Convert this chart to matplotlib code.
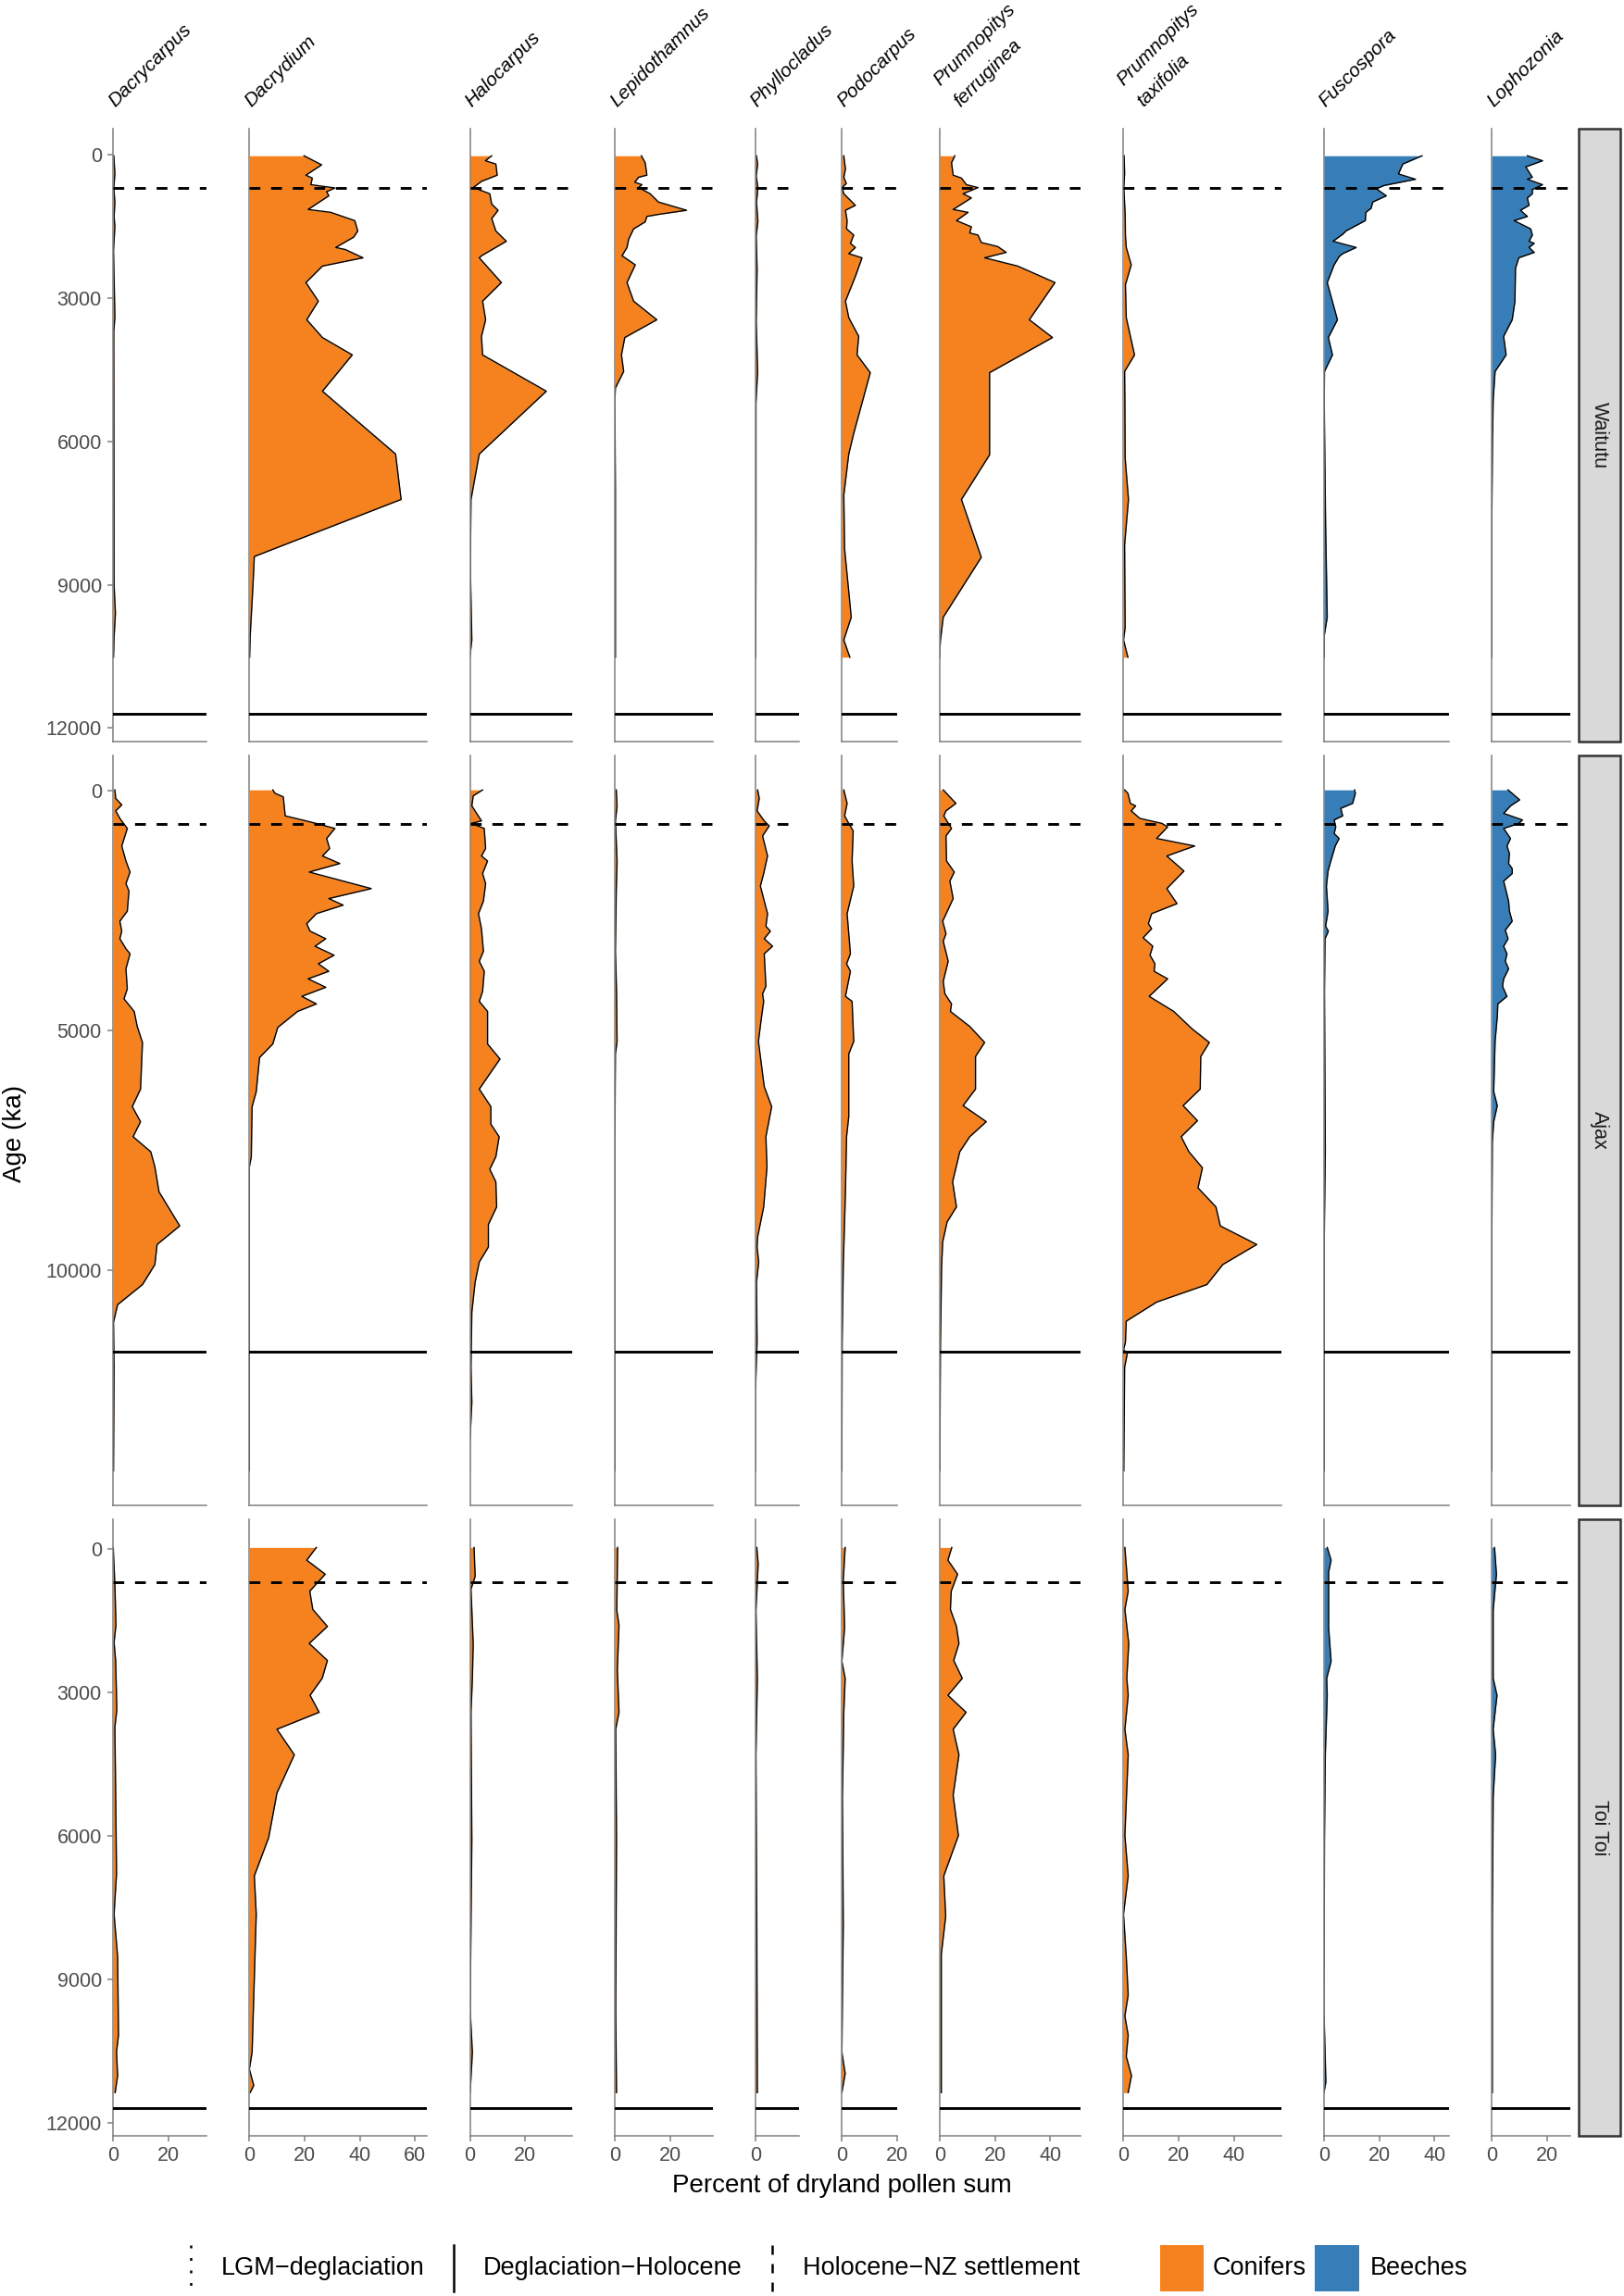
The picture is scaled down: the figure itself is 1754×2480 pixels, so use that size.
import numpy as np
import matplotlib
matplotlib.use("Agg")
import matplotlib.pyplot as plt
from matplotlib.patches import Rectangle

plt.rcParams['font.family'] = ['Liberation Sans', 'DejaVu Sans']

# ---- data: (age in years BP, percent of dryland pollen sum) ----
sites = ["Waitutu", "Ajax", "Toi Toi"]
taxa = ["Dacrycarpus", "Dacrydium", "Halocarpus", "Lepidothamnus", "Phyllocladus",
        "Podocarpus", "Prumnopitys ferruginea", "Prumnopitys taxifolia",
        "Fuscospora", "Lophozonia"]
taxon_labels = ["Dacrycarpus", "Dacrydium", "Halocarpus", "Lepidothamnus", "Phyllocladus",
                "Podocarpus", "Prumnopitys\nferruginea", "Prumnopitys\ntaxifolia",
                "Fuscospora", "Lophozonia"]
taxon_group = ["Conifers"] * 8 + ["Beeches"] * 2
x_max = [33.8, 64.4, 37, 35.4, 15.8, 20, 51, 57.1, 45.3, 28.4]
x_ticks = [[0, 20], [0, 20, 40, 60], [0, 20], [0, 20], [0], [0, 20],
           [0, 20, 40], [0, 20, 40], [0, 20, 40], [0, 20]]
y_ticks = [[0, 3000, 6000, 9000, 12000], [0, 5000, 10000], [0, 3000, 6000, 9000, 12000]]
settlement_age = 700
holocene_age = 11700

wai_dacrycarpus = [(26, 0.2), (400, 0.6), (700, 0.2), (1000, 0.6), (1300, 0.3), (1500, 0.6), (2000, 0.1),
                   (3400, 0.6), (3700, 0.2), (9000, 0.3), (9600, 0.8), (10100, 0.3), (10518, 0.1)]
wai_dacrydium = [(26, 19.8), (216, 26.2), (432, 20.5), (493, 22.8), (631, 22.3), (700, 31.0), (778, 28.0),
                 (864, 28.8), (1150, 21.3), (1210, 29.5), (1383, 38.2), (1599, 39.3), (1729, 37.8),
                 (1945, 31.3), (1988, 34.8), (2161, 41.2), (2334, 26.5), (2679, 20.5), (3068, 25.0),
                 (3457, 20.8), (3829, 26.5), (4192, 37.3), (4952, 26.5), (6266, 53.0), (7217, 55.0),
                 (8410, 1.8), (9032, 1.3), (10069, 0.3), (10518, 0.1)]
wai_halocarpus = [(26, 7.9), (130, 5.6), (199, 9.4), (432, 9.9), (562, 4.2), (691, 1.2), (821, 7.2),
                  (1037, 7.9), (1167, 10.2), (1340, 7.9), (1599, 9.4), (1815, 13.2), (2118, 4.2),
                  (2161, 3.4), (2679, 11.4), (3068, 4.6), (3457, 5.7), (3803, 4.2), (4192, 4.6),
                  (4952, 27.7), (6266, 3.4), (7217, 0.4), (8600, 0.15), (10156, 0.7), (10518, 0.0)]
wai_lepidothamnus = [(26, 9.6), (173, 11.0), (432, 11.6), (476, 8.6), (579, 7.2), (631, 9.8), (691, 8.6),
                     (821, 12.8), (994, 15.8), (1167, 26.0), (1253, 15.8), (1296, 11.6), (1409, 11.0),
                     (1556, 6.8), (1772, 5.0), (1945, 4.4), (2118, 2.6), (2308, 7.4), (2679, 4.4),
                     (3068, 6.8), (3457, 15.2), (3829, 3.6), (4192, 2.4), (4538, 3.2), (4883, 0.2),
                     (5143, 0.0), (7000, 0.2), (10518, 0.2)]
wai_phyllocladus = [(26, 0.4), (200, 0.8), (450, 0.3), (700, 0.9), (1000, 0.4), (1400, 0.9), (1700, 0.3),
                    (2400, 0.6), (3500, 0.3), (4550, 0.8), (5200, 0.2), (8000, 0.2), (10518, 0.1)]
wai_podocarpus = [(26, 0.7), (302, 1.3), (475, 0.7), (605, 1.6), (692, 0.1), (821, 0.7), (1063, 4.9),
                  (1167, 1.3), (1383, 1.9), (1556, 1.7), (1685, 4.3), (1858, 3.1), (1945, 4.9),
                  (2074, 2.5), (2161, 7.3), (2550, 4.9), (3068, 1.3), (3414, 2.5), (3803, 6.1),
                  (4192, 5.5), (4564, 10.3), (5834, 4.3), (6266, 2.5), (7130, 0.7), (8254, 1.0),
                  (9680, 3.4), (10156, 0.7), (10518, 2.9)]
wai_pferruginea = [(26, 5.4), (173, 4.2), (432, 4.8), (493, 7.8), (631, 9.6), (692, 13.8), (821, 8.4),
                   (908, 11.4), (1150, 4.8), (1210, 10.2), (1383, 6.0), (1513, 11.4), (1642, 10.8),
                   (1685, 13.8), (1841, 15.0), (1927, 21.0), (2048, 24.0), (2161, 16.2), (2334, 28.2),
                   (2679, 41.7), (3457, 32.4), (3829, 40.8), (4564, 18.0), (6283, 18.0), (7217, 7.8),
                   (8427, 15.0), (9680, 1.2), (10156, 0.2), (10330, 0.0), (10518, 0.0)]
wai_ptaxifolia = [(26, 0.2), (400, 0.4), (691, 0.1), (1253, 0.6), (1685, 0.7), (1945, 1.0), (2308, 2.8),
                  (2723, 0.7), (3414, 1.0), (4192, 4.0), (4538, 0.4), (5143, 0.5), (6353, 0.6),
                  (7217, 1.8), (8168, 0.4), (9896, 0.6), (10156, 0.0), (10518, 1.6)]
wai_fuscospora = [(26, 35.6), (199, 28.6), (406, 27.0), (518, 33.2), (648, 21.8), (717, 19.0), (864, 22.6),
                  (994, 17.7), (1124, 17.1), (1210, 15.2), (1383, 15.0), (1599, 8.0), (1668, 6.8),
                  (1815, 3.3), (1945, 11.7), (2074, 6.8), (2135, 5.5), (2308, 3.7), (2679, 1.2),
                  (3457, 4.9), (3829, 1.6), (4192, 3.1), (4538, 0.2), (5143, 0.1), (7735, 0.6),
                  (9680, 1.2), (10069, 0.1), (10518, 0.1)]
wai_lophozonia = [(26, 12.9), (130, 18.4), (259, 12.3), (475, 14.7), (518, 12.9), (631, 18.4), (734, 14.7),
                  (821, 14.7), (908, 12.9), (1063, 13.5), (1167, 10.4), (1296, 12.9), (1383, 8.1),
                  (1556, 14.1), (1685, 14.7), (1815, 13.5), (1858, 15.4), (1945, 13.5), (2048, 15.4),
                  (2161, 9.8), (2377, 8.6), (3068, 8.4), (3457, 7.4), (3803, 4.3), (4192, 5.2),
                  (4538, 1.2), (5143, 0.5), (6007, 0.25), (7735, 0.0), (10518, 0.0)]

aja_dacrycarpus = [(-20, 0.6), (157, 0.9), (293, 3.1), (418, 0.9), (575, 2.4), (785, 5.1), (1151, 3.1),
                   (1464, 4.6), (1695, 6.1), (1936, 4.6), (2092, 5.7), (2510, 5.1), (2720, 2.4),
                   (2929, 3.1), (3086, 2.4), (3295, 4.6), (3400, 6.1), (3713, 4.6), (4132, 5.1),
                   (4341, 3.9), (4603, 7.6), (4916, 8.7), (5251, 10.6), (6224, 9.9), (6590, 6.9),
                   (6904, 9.9), (7218, 7.2), (7531, 13.6), (7845, 15.1), (8368, 16.6), (9079, 24.1),
                   (9467, 15.9), (9885, 15.1), (10304, 10.6), (10722, 1.6), (11088, 0.1), (12029, 0.3),
                   (14190, 0.1)]
aja_dacrydium = [(-20, 8.5), (52, 9.3), (126, 12.3), (523, 13.0), (648, 22.0), (785, 31.0), (994, 28.0),
                 (1203, 29.1), (1360, 26.5), (1517, 32.8), (1695, 21.7), (2040, 44.2), (2249, 28.8),
                 (2385, 34.0), (2563, 24.3), (2772, 20.8), (2929, 22.0), (3086, 27.7), (3243, 23.8),
                 (3431, 30.7), (3609, 25.0), (3766, 28.8), (3923, 21.3), (4100, 27.7), (4289, 19.0),
                 (4446, 24.3), (4603, 17.5), (4937, 10.3), (5282, 8.5), (5565, 3.7), (6276, 2.5),
                 (6590, 1.0), (7636, 0.7), (7845, 0.0), (14190, 0.0)]
aja_halocarpus = [(-20, 4.6), (105, 1.2), (314, 0.7), (628, 4.2), (680, 0.4), (785, 5.2), (1203, 5.7),
                  (1360, 4.2), (1464, 6.4), (1726, 4.6), (1936, 5.7), (2301, 4.9), (2563, 3.1),
                  (2877, 4.2), (3347, 4.9), (3556, 3.4), (3766, 5.2), (4184, 4.6), (4393, 3.4),
                  (4603, 6.4), (5282, 6.4), (5596, 10.9), (6224, 3.4), (6590, 7.6), (6956, 7.6),
                  (7218, 10.6), (7636, 9.4), (7897, 7.2), (8159, 9.4), (8682, 9.7), (9048, 6.7),
                  (9519, 6.7), (9833, 3.4), (10251, 1.9), (10879, 0.7), (12029, 0.4), (12762, 0.7),
                  (13598, 0.0), (14190, 0.0)]
aja_lepidothamnus = [(-20, 0.5), (314, 0.8), (628, 0.2), (1464, 0.8), (2092, 0.5), (3347, 0.2),
                     (4184, 0.6), (5230, 0.8), (5491, 0.2), (7322, 0.0), (14190, 0.0)]
aja_phyllocladus = [(-20, 0.8), (157, 1.4), (418, 0.6), (628, 3.2), (732, 5.0), (941, 2.6), (1360, 4.4),
                    (1726, 3.0), (1987, 1.8), (2563, 4.4), (2824, 3.8), (2929, 5.4), (3086, 3.2),
                    (3243, 6.2), (3400, 3.2), (4079, 3.8), (4236, 2.6), (4393, 3.0), (4812, 2.0),
                    (5230, 1.1), (6172, 3.2), (6590, 5.9), (7218, 3.8), (7845, 4.2), (8682, 3.0),
                    (9310, 0.8), (9519, 0.6), (9833, 1.2), (10251, 0.4), (11506, 0.6), (12552, 0.0),
                    (14190, 0.0)]
aja_podocarpus = [(-20, 0.7), (262, 1.9), (523, 1.0), (680, 2.5), (837, 4.1), (1464, 3.7), (1987, 4.3),
                  (2563, 1.9), (3400, 3.1), (3609, 1.7), (3766, 3.1), (4289, 1.3), (4393, 3.7),
                  (5230, 4.3), (5491, 2.5), (6799, 2.5), (7218, 1.7), (8368, 1.3), (9937, 0.5),
                  (11506, 0.1), (13598, 0.0), (14190, 0.0)]
aja_pferruginea = [(-20, 1.2), (262, 5.8), (418, 2.2), (523, 1.4), (785, 4.2), (941, 2.2), (1464, 2.4),
                   (1695, 5.2), (1883, 3.6), (2249, 4.8), (2720, 1.0), (2981, 2.2), (3138, 1.2),
                   (3556, 3.0), (3975, 1.2), (4236, 1.8), (4446, 4.2), (4603, 3.8), (4916, 10.8),
                   (5251, 16.2), (5544, 12.9), (6224, 12.9), (6569, 8.4), (6904, 16.8), (7218, 10.8),
                   (7531, 7.2), (8159, 4.6), (8682, 6.0), (8996, 2.6), (9414, 1.0), (9937, 0.6),
                   (11506, 0.2), (13598, 0.0), (14190, 0.0)]
aja_ptaxifolia = [(-20, 0.4), (52, 1.6), (262, 2.5), (314, 4.4), (418, 2.8), (575, 5.9), (680, 13.9),
                  (753, 16.0), (994, 12.0), (1151, 25.8), (1360, 15.7), (1674, 21.9), (2040, 15.7),
                  (2354, 19.4), (2563, 10.2), (2772, 9.0), (2877, 10.2), (3065, 7.1), (3243, 10.6),
                  (3431, 9.6), (3609, 11.4), (3766, 11.1), (3923, 16.0), (4289, 9.3), (4603, 18.2),
                  (4969, 24.9), (5251, 31.1), (5544, 28.0), (6224, 27.8), (6569, 21.6), (6883, 26.8),
                  (7218, 20.9), (7531, 23.7), (7866, 28.6), (8285, 27.0), (8682, 33.5), (9079, 35.1),
                  (9467, 48.3), (9885, 36.0), (10304, 30.2), (10669, 12.0), (11067, 1.0), (11506, 0.7),
                  (11663, 0.0), (11736, 1.4), (12029, 0.4), (14190, 0.1)]
aja_fuscospora = [(-20, 11.1), (52, 11.4), (262, 10.4), (366, 6.1), (523, 6.8), (607, 3.7), (753, 4.3),
                  (889, 3.7), (994, 5.5), (1151, 4.1), (1464, 2.5), (1674, 1.5), (1987, 0.9),
                  (2510, 1.5), (2824, 0.6), (2929, 1.6), (3086, 0.4), (4184, 0.2), (7531, 0.5),
                  (9414, 0.1), (14190, 0.1)]
aja_lophozonia = [(-20, 5.9), (188, 10.1), (314, 6.8), (471, 4.3), (607, 11.1), (680, 9.8), (785, 4.3),
                  (994, 6.8), (1151, 5.5), (1308, 6.4), (1517, 6.1), (1622, 7.4), (1726, 7.4),
                  (1883, 4.3), (2092, 5.2), (2301, 6.1), (2510, 6.4), (2720, 7.4), (2908, 4.9),
                  (3086, 5.9), (3243, 4.3), (3400, 5.5), (3556, 4.9), (3713, 6.1), (3923, 4.3),
                  (4079, 3.9), (4289, 5.5), (4446, 2.2), (4707, 2.0), (5230, 1.2), (6276, 0.7),
                  (6569, 2.0), (6904, 0.7), (7322, 0.2), (9414, 0.0), (14190, 0.0)]

toi_dacrycarpus = [(-27, 0.0), (755, 0.6), (1599, 1.0), (1954, 0.3), (2353, 0.9), (3375, 1.3), (3730, 0.6),
                   (5195, 0.9), (6794, 1.2), (7638, 0.3), (8526, 1.6), (10169, 1.9), (10524, 1.2),
                   (11012, 1.6), (11368, 0.7)]
toi_dacrydium = [(-27, 24.3), (240, 20.8), (533, 27.5), (888, 21.9), (1270, 23.0), (1625, 28.3),
                 (1980, 21.7), (2336, 28.3), (2709, 26.4), (3064, 22.0), (3419, 25.3), (3774, 10.0),
                 (4307, 16.3), (5107, 10.0), (6039, 7.0), (6838, 1.8), (7638, 2.5), (10524, 1.0),
                 (10879, 0.0), (11217, 1.6), (11368, 0.3)]
toi_halocarpus = [(-27, 1.5), (577, 1.9), (844, 0.4), (1998, 1.2), (2709, 0.9), (3419, 0.4), (6083, 0.7),
                  (9636, 0.1), (10524, 0.9), (11368, 0.1)]
toi_lepidothamnus = [(-27, 1.0), (1288, 0.7), (1599, 1.5), (2531, 0.9), (3419, 1.5), (3774, 0.3),
                     (6083, 0.6), (9636, 0.3), (11368, 0.6)]
toi_phyllocladus = [(-27, 0.5), (311, 1.0), (1288, 0.2), (2709, 0.7), (4307, 0.2), (7860, 0.5), (11368, 0.7)]
toi_podocarpus = [(-27, 1.2), (666, 0.5), (1643, 1.0), (2353, 0.0), (2709, 1.2), (3419, 0.7), (5195, 0.2),
                  (7860, 0.5), (10524, 0.0), (10968, 1.2), (11368, 0.0)]
toi_pferruginea = [(-27, 4.3), (240, 2.9), (533, 6.4), (888, 4.1), (1270, 3.8), (1625, 6.0), (1980, 6.9),
                   (2336, 5.0), (2709, 8.1), (3064, 2.9), (3419, 9.5), (3774, 4.8), (4307, 6.9),
                   (5151, 4.8), (5995, 6.7), (6838, 1.4), (7682, 2.1), (8481, 0.5), (11368, 0.5)]
toi_ptaxifolia = [(-27, 0.5), (888, 1.7), (1270, 0.5), (1980, 1.9), (2709, 1.2), (3064, 1.7), (3774, 0.5),
                  (4307, 1.7), (5995, 0.5), (6838, 1.7), (7638, 0.0), (8526, 1.0), (9325, 1.7),
                  (9769, 0.5), (10169, 1.7), (10613, 1.0), (11012, 2.9), (11368, 1.7)]
toi_fuscospora = [(-27, 1.2), (240, 2.6), (488, 1.7), (1643, 1.7), (2353, 2.6), (2709, 1.0), (3064, 1.2),
                  (4307, 0.5), (6083, 0.2), (9636, 0.0), (11146, 0.7), (11368, 0.0)]
toi_lophozonia = [(-27, 1.0), (533, 1.7), (1288, 0.5), (2709, 0.5), (3064, 1.9), (3774, 0.5), (4307, 1.4),
                  (5195, 0.5), (7860, 0.2), (11368, 0.2)]

curves = {
    "Waitutu": [wai_dacrycarpus, wai_dacrydium, wai_halocarpus, wai_lepidothamnus, wai_phyllocladus,
                wai_podocarpus, wai_pferruginea, wai_ptaxifolia, wai_fuscospora, wai_lophozonia],
    "Ajax": [aja_dacrycarpus, aja_dacrydium, aja_halocarpus, aja_lepidothamnus, aja_phyllocladus,
             aja_podocarpus, aja_pferruginea, aja_ptaxifolia, aja_fuscospora, aja_lophozonia],
    "Toi Toi": [toi_dacrycarpus, toi_dacrydium, toi_halocarpus, toi_lepidothamnus, toi_phyllocladus,
                toi_podocarpus, toi_pferruginea, toi_ptaxifolia, toi_fuscospora, toi_lophozonia],
}

# ---- layout (pixels) ----
W, H = 1754, 2480
fill_col = {"Conifers": "#F5821F", "Beeches": "#377EB8"}
axis_grey = "#808080"
col_left0, px_per_pct, col_gap = 122.3, 2.98, 46.3
row_top = [138.75, 816.3, 1640.7]
row_bot = [800.8, 1625.5, 2307.3]
row_ylim = [(-545, 12278), (-732, 14901), (-621, 12277)]

col_left = []
x = col_left0
for xm in x_max:
    col_left.append(x)
    x += xm * px_per_pct + col_gap

fig = plt.figure(figsize=(W / 100, H / 100), dpi=100)
over = fig.add_axes([0, 0, 1, 1])
over.set_xlim(0, W)
over.set_ylim(H, 0)
over.axis("off")

for i, site in enumerate(sites):
    for j, taxon in enumerate(taxa):
        wpx = x_max[j] * px_per_pct
        ax = fig.add_axes([col_left[j] / W, 1 - row_bot[i] / H, wpx / W, (row_bot[i] - row_top[i]) / H])
        pts = np.array(curves[site][j], dtype=float)
        ax.fill_betweenx(pts[:, 0], 0, pts[:, 1], color=fill_col[taxon_group[j]], lw=0, zorder=1)
        ax.plot(pts[:, 1], pts[:, 0], color="black", lw=1.0, zorder=2)
        ax.axhline(settlement_age, color="black", lw=2.1, ls=(0, (4, 4)), zorder=3)
        ax.axhline(holocene_age, color="black", lw=2.1, zorder=3)
        ax.set_xlim(0, x_max[j])
        ax.set_ylim(row_ylim[i][1], row_ylim[i][0])
        for s in ["top", "right"]:
            ax.spines[s].set_visible(False)
        for s in ["left", "bottom"]:
            ax.spines[s].set_color(axis_grey)
            ax.spines[s].set_linewidth(1.1)
        ax.set_yticks(y_ticks[i])
        ax.set_xticks(x_ticks[j])
        ax.tick_params(axis="y", left=(j == 0), labelleft=(j == 0), length=4.5, width=1.1,
                       color=axis_grey, labelcolor="#4D4D4D", labelsize=15.5, pad=4.5)
        ax.tick_params(axis="x", bottom=(i == 2), labelbottom=(i == 2), length=4.5, width=1.1,
                       color=axis_grey, labelcolor="#4D4D4D", labelsize=15.5, pad=3)

    # right-hand strip for the site
    over.add_patch(Rectangle((1704.5, row_top[i]), 45, row_bot[i] - row_top[i],
                             facecolor="#D9D9D9", edgecolor="#333333", lw=1.8))
    over.text(1727, (row_top[i] + row_bot[i]) / 2, site, rotation=-90, ha="center", va="center",
              fontsize=15.5, color="#1A1A1A")

# taxon headers (each line placed on its own, rotated 45 degrees)
for j, lab in enumerate(taxon_labels):
    lines = lab.split("\n")
    if len(lines) == 1:
        anchors = [(col_left[j] + 2, 116)]
    else:
        anchors = [(col_left[j] + 0, 93), (col_left[j] + 22, 116)]
    for line, (ax_x, ax_y) in zip(lines, anchors):
        over.text(ax_x, ax_y, line, rotation=45, rotation_mode="anchor",
                  ha="left", va="baseline", fontsize=15, style="italic")

over.text(16, 1224, "Age (ka)", rotation=90, ha="center", va="center", fontsize=20)
over.text(909, 2361, "Percent of dryland pollen sum", ha="center", va="center", fontsize=20)

# legend
leg_y0, leg_y1, leg_yc = 2425, 2475, 2450
over.plot([206, 206], [leg_y0, leg_y1], color="black", lw=1.8, ls=(0, (1.2, 4.2)))
over.text(239, leg_yc, "LGM\u2212deglaciation", ha="left", va="center", fontsize=19.5)
over.plot([490, 490], [leg_y0, leg_y1], color="black", lw=1.8)
over.text(522, leg_yc, "Deglaciation\u2212Holocene", ha="left", va="center", fontsize=19.5)
over.plot([834, 834], [leg_y0, leg_y1], color="black", lw=1.8, ls=(0, (4, 4)))
over.text(867, leg_yc, "Holocene\u2212NZ settlement", ha="left", va="center", fontsize=19.5)
over.add_patch(Rectangle((1253, leg_y0), 47, leg_y1 - leg_y0, facecolor=fill_col["Conifers"], lw=0))
over.text(1310, leg_yc, "Conifers", ha="left", va="center", fontsize=19.5)
over.add_patch(Rectangle((1420, leg_y0), 48, leg_y1 - leg_y0, facecolor=fill_col["Beeches"], lw=0))
over.text(1480, leg_yc, "Beeches", ha="left", va="center", fontsize=19.5)

fig.savefig("out.png", dpi=100)
